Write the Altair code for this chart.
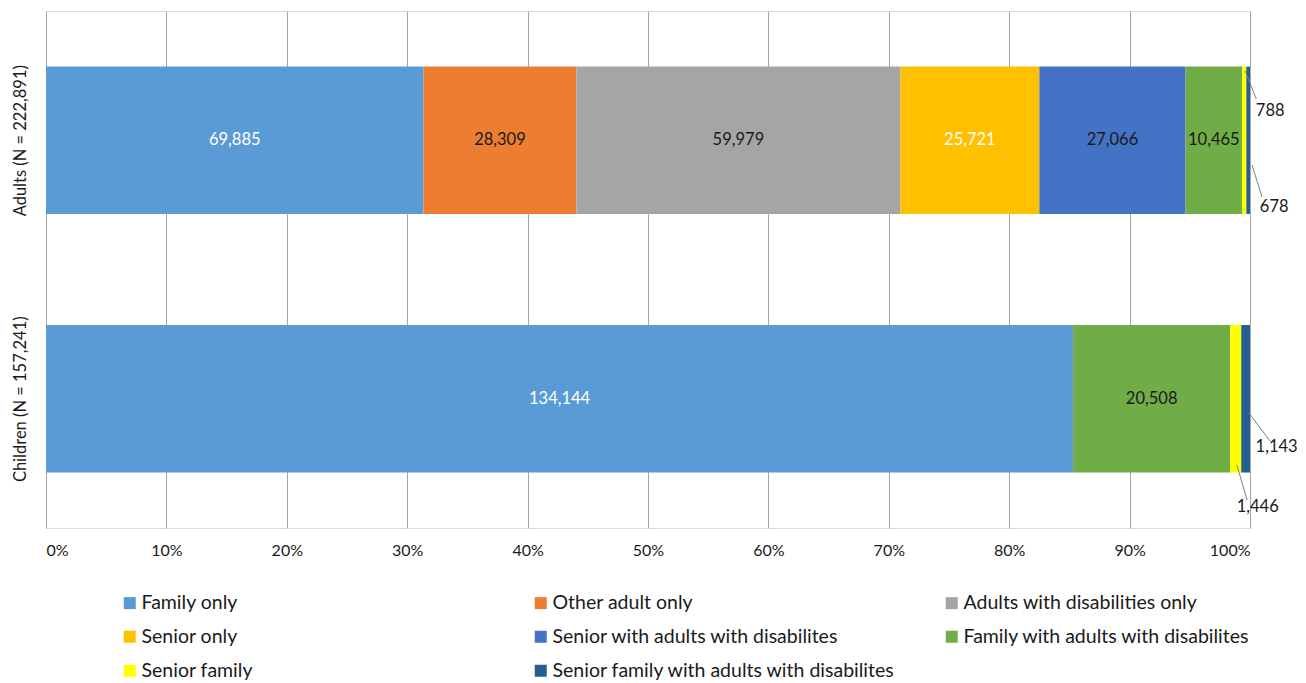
import altair as alt
import pandas as pd

groups = ["Adults (N = 222,891)", "Children (N = 157,241)"]
categories = [
    "Family only",
    "Other adult only",
    "Adults with disabilities only",
    "Senior only",
    "Senior with adults with disabilites",
    "Family with adults with disabilites",
    "Senior family",
    "Senior family with adults with disabilites",
]
colors = ["#5B9BD5", "#ED7D31", "#A5A5A5", "#FFC000", "#4472C4", "#70AD47", "#FFFF00", "#255E91"]
adults = [69885, 28309, 59979, 25721, 27066, 10465, 788, 678]
children = [134144, 0, 0, 0, 0, 20508, 1446, 1143]
tick_values = [0, 0.1, 0.2, 0.3, 0.4, 0.5, 0.6, 0.7, 0.8, 0.9, 1.0]

rows = []
for gi, (g, vals) in enumerate(zip(groups, [adults, children])):
    for i, (c, v) in enumerate(zip(categories, vals)):
        rows.append({"group": g, "gi": gi, "category": c, "idx": i, "value": v})
df = pd.DataFrame(rows)

FONT = "Lato"
TXT = "#1a1a1a"
PAD = 0.215  # outer padding of each category slot
BAR = 0.57   # bar thickness as share of the slot

base = (
    alt.Chart(df)
    .transform_filter("datum.value > 0")
    .transform_joinaggregate(total="sum(value)", groupby=["group"])
    .transform_window(cum="sum(value)", sort=[alt.SortField("idx")], groupby=["group"], frame=[None, 0])
    .transform_calculate(
        x0="(datum.cum - datum.value) / datum.total",
        x1="datum.cum / datum.total",
        xm="(datum.cum - datum.value / 2) / datum.total",
        ytop=f"datum.gi + {PAD}",
        ybot=f"datum.gi + {PAD + BAR}",
        yc="datum.gi + 0.5",
    )
)

label_expr = f"datum.value < 1 ? '{groups[0]}' : '{groups[1]}'"
y_scale = alt.Scale(domain=[0, len(groups)], reverse=True, nice=False, zero=False)

bars = base.mark_bar().encode(
    x=alt.X(
        "x0:Q",
        scale=alt.Scale(domain=[0, 1], nice=False),
        axis=alt.Axis(
            values=tick_values, format=".0%", title=None, grid=True, gridColor="#A6A6A6",
            gridWidth=1, domain=False, ticks=False, labelPadding=14, labelFontSize=16,
            labelFont=FONT, labelColor=TXT,
        ),
    ),
    x2="x1:Q",
    y=alt.Y(
        "ytop:Q", scale=y_scale,
        axis=alt.Axis(
            values=[0.5, 1.5], labelExpr=label_expr, grid=False,
            title=None, domain=False, ticks=False, labelAngle=270, labelAlign="center",
            labelBaseline="bottom", labelPadding=18, labelFontSize=16.5, labelFont=FONT,
            labelColor=TXT, labelLimit=400,
        ),
    ),
    y2="ybot:Q",
    color=alt.Color(
        "category:N",
        scale=alt.Scale(domain=categories, range=colors),
        legend=alt.Legend(
            title=None, orient="none", legendX=74, legendY=582, columns=3, gridAlign="all",
            direction="horizontal",
            columnPadding=46, rowPadding=13, symbolType="square", symbolSize=144,
            symbolStrokeWidth=0, labelFontSize=19.5, labelFont=FONT, labelColor=TXT,
            labelLimit=500, labelOffset=2, padding=0,
        ),
    ),
)

inside = base.transform_filter("datum.value / datum.total > 0.02").mark_text(
    font=FONT, fontSize=16.5
).encode(
    x="xm:Q",
    y=alt.Y("yc:Q", scale=y_scale),
    text=alt.Text("value:Q", format=","),
    color=alt.condition(
        "datum.category == 'Family only' || datum.category == 'Senior only'",
        alt.value("white"),
        alt.value(TXT),
    ),
)

# leader-line annotations: (group, category, line start/end offsets in share units,
# line start/end positions as share of bar thickness, text dx/dy in px)
annotations = [
    (0, "Senior family", 0.0008, 0.0100, 0.03, 0.22, 26, -29),
    (0, "Senior family with adults with disabilites", 0.0032, 0.0115, 0.668, 0.885, 26, 67),
    (1, "Senior family with adults with disabilites", 0.0028, 0.0203, 0.597, 0.787, 31, 48),
    (1, "Senior family", 0.0010, 0.0094, 0.95, 1.187, 22, 108),
]

layers = [bars, inside]
for gi, cat, a, b, b0, b1, dx, dy in annotations:
    sel = base.transform_filter(
        f"datum.gi == {gi} && datum.category == '{cat}'"
    )
    line = sel.transform_calculate(
        xs=f"datum.xm + {a}", xe=f"datum.xm + {b}",
        ys=f"datum.ytop + {b0 * BAR}", ye=f"datum.ytop + {b1 * BAR}",
    ).mark_rule(color="#7F7F7F", strokeWidth=1).encode(
        x="xs:Q",
        x2="xe:Q",
        y=alt.Y("ys:Q", scale=y_scale),
        y2="ye:Q",
    )
    label = sel.mark_text(font=FONT, fontSize=16.5, dx=dx, dy=dy, color=TXT).encode(
        x="xm:Q",
        y=alt.Y("yc:Q", scale=y_scale),
        text=alt.Text("value:Q", format=","),
    )
    layers += [line, label]

chart = (
    alt.layer(*layers)
    .properties(
        width=1204, height=517,
        autosize=alt.AutoSizeParams(type="none"),
        padding={"left": 46, "top": 11, "right": 56, "bottom": 155},
    )
    .configure_view(stroke=None)
    .configure(background="white")
)

chart.save("out.html", embed_options={"renderer": "svg", "actions": False})
